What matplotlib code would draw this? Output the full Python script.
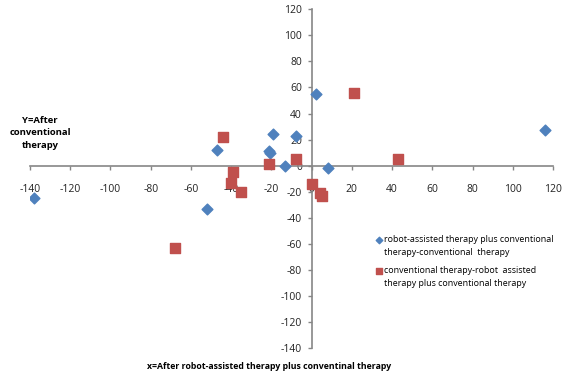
import matplotlib
matplotlib.use("Agg")
import matplotlib.pyplot as plt
from matplotlib.legend_handler import HandlerPathCollection
from matplotlib.collections import PathCollection

blue_x = [-138, -47, -19, -21, -20.5, -13, -8, 2, 8, 116, -52]
blue_y = [-25, 12, 24, 11, 10, 0, 23, 55, -2, 27, -33]
red_x = [-44, -21, -39, -40, -35, -68, -8, 21, 43, 0, 4, 5]
red_y = [22, 1, -5, -13, -20, -63, 5, 56, 5, -14, -21, -23]
ticks = list(range(-140, 121, 20))

blue_label = "robot-assisted therapy plus conventional\ntherapy-conventional  therapy"
red_label = "conventional therapy-robot  assisted\ntherapy plus conventional therapy"

plt.rcParams['font.family'] = ['Open Sans', 'DejaVu Sans']
plt.rcParams['axes.unicode_minus'] = False
fig = plt.figure(figsize=(5.66, 3.81), dpi=100)
ax = fig.add_axes([0.053, 0.0866, 0.924, 0.889])
ax.set_xlim(-140, 120)
ax.set_ylim(-140, 120)
ax.spines['left'].set_position(('data', 0))
ax.spines['bottom'].set_position(('data', 0))
for s in ['right', 'top']:
    ax.spines[s].set_visible(False)
for s in ['left', 'bottom']:
    ax.spines[s].set_color('#868686')
    ax.spines[s].set_linewidth(1.2)
ax.set_xticks(ticks)
ax.set_yticks(ticks)
ax.tick_params(axis='both', labelsize=7.5, colors='#868686', labelcolor='#222222', length=3, width=1)
ax.tick_params(axis='x', direction='out', pad=10)
ax.tick_params(axis='y', direction='out', pad=4)

ax.scatter(blue_x, blue_y, marker='D', s=30, color='#4F81BD', label=blue_label, zorder=3)
ax.scatter(red_x, red_y, marker='s', s=60, color='#C0504D', label=red_label, zorder=3)

leg = ax.legend(loc='upper left', bbox_to_anchor=(0.645, 0.357), frameon=False,
                fontsize=6.4, handletextpad=0.2, labelspacing=1.0, markerscale=0.6,
                handlelength=0.8,
                handler_map={PathCollection: HandlerPathCollection(yoffsets=[1.5])})
for t in leg.get_texts():
    t.set_linespacing(1.55)

fig.text(0.071, 0.652, "Y=After\nconventional\ntherapy", ha='center', va='center',
         fontsize=6.8, fontweight='bold', linespacing=1.5)
fig.text(0.475, 0.037, "x=After robot-assisted therapy plus conventinal therapy",
         ha='center', va='center', fontsize=6.3, fontweight='bold')

fig.savefig("out.png", dpi=100)
